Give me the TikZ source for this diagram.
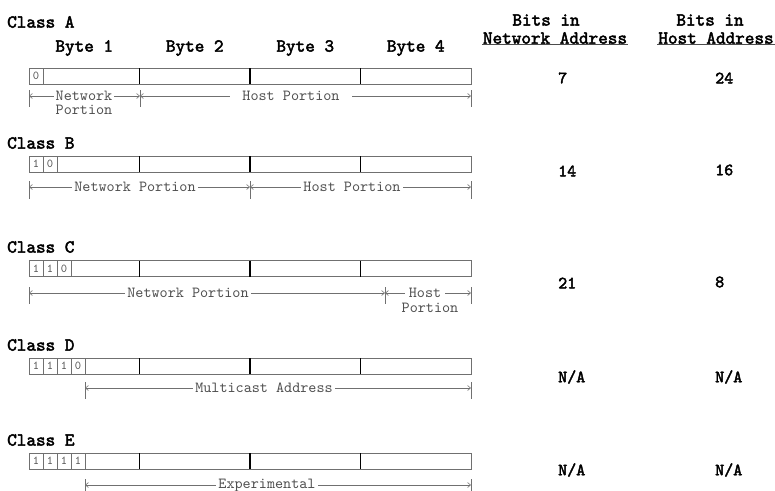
\documentclass[tikz,border=0pt]{standalone}
\usepackage{fontspec}
\setmonofont{lmmono10-regular.otf}[BoldFont=lmmono10-regular.otf, BoldFeatures={FakeBold=2.5}]
\usepackage{tikz}
\usetikzlibrary{arrows.meta,positioning}
\definecolor{boxgray}{HTML}{707070}
\definecolor{linegray}{HTML}{707070}
\definecolor{textgray}{HTML}{505050}
\tikzset{
class_label/.style={anchor=west, inner sep=0, font=\ttfamily\bfseries\fontsize{18.3}{18}\selectfont},
byte_label/.style={inner sep=0, font=\ttfamily\bfseries\fontsize{18.3}{18}\selectfont},
byte_box/.style={rectangle, draw=boxgray, line width=0.7pt, minimum width=110.5pt, minimum height=16pt, inner sep=0, outer sep=0},
bit_cell/.style={rectangle, draw=boxgray, line width=0.5pt, minimum width=14pt, minimum height=16pt, inner sep=0, outer sep=0, text=textgray, font=\ttfamily\fontsize{12}{12}\selectfont},
byte_divider/.style={line width=1.6pt, color=black},
dim_arrow/.style={draw=linegray, line width=0.6pt, {Straight Barb[length=3pt,width=5pt]}-{Straight Barb[length=3pt,width=5pt]}},
dim_tick/.style={draw=linegray, line width=0.6pt},
span_label/.style={fill=white, text=textgray, inner xsep=2pt, inner ysep=0.5pt, font=\ttfamily\fontsize{15.4}{16}\selectfont},
head_label/.style={inner sep=1pt, font=\ttfamily\bfseries\fontsize{18.3}{18}\selectfont},
head_rule/.style={line width=1pt, color=black!70},
bit_count/.style={anchor=west, inner sep=0, font=\ttfamily\bfseries\fontsize{17.2}{18}\selectfont}
}

\begin{document}
\begin{tikzpicture}[x=1pt, y=-1pt]
    \useasboundingbox (0,0) rectangle (775,490);

    % column heads
    \node[head_label] (net_head1) at (546,20) {Bits in};
    \node[head_label] (net_head2) at (555,38) {Network Address};
    \draw[head_rule] (net_head2.south west) -- (net_head2.south east);
    \node[head_label] (host_head1) at (710,20) {Bits in};
    \node[head_label] (host_head2) at (716,38) {Host Address};
    \draw[head_rule] (host_head2.south west) -- (host_head2.south east);

    % Class A
    \node[class_label] (A_name) at (7,22) {Class A};
    \node[byte_box] (A_1) at (84.25,76) {};
    \node[byte_box] (A_2) [right=0 of A_1] {};
    \node[byte_box] (A_3) [right=0 of A_2] {};
    \node[byte_box] (A_4) [right=0 of A_3] {};
    \node[byte_label] (byte_1) [above=12pt of A_1] {Byte 1};
    \node[byte_label] (byte_2) [above=12pt of A_2] {Byte 2};
    \node[byte_label] (byte_3) [above=12pt of A_3] {Byte 3};
    \node[byte_label] (byte_4) [above=12pt of A_4] {Byte 4};
    \node[bit_cell, anchor=west] (A_b1) at (A_1.west) {0};
    \draw[byte_divider] (A_1.north east) -- (A_1.south east) (A_2.north east) -- (A_2.south east) (A_3.north east) -- (A_3.south east);
    \coordinate (A_l) at (29,96);
    \coordinate (A_m) at (140,96);
    \coordinate (A_r) at (471,96);
    \draw[dim_arrow] (A_l) -- (A_m);
    \draw[dim_arrow] (A_m) -- (A_r);
    \draw[dim_tick] (A_l) +(0,-6) -- +(0,11) (A_m) +(0,-6) -- +(0,11) (A_r) +(0,-6) -- +(0,11);
    \node[span_label] (A_net) at (84,96) {Network};
    \node[span_label] (A_net2) at (84,110) {Portion};
    \node[span_label, inner xsep=12pt] (A_host) at (291,96) {Host Portion};
    \node[bit_count] (A_netbits) at (558,78) {7};
    \node[bit_count] (A_hostbits) at (715,78) {24};

    % Class B
    \node[class_label] (B_name) at (7,143) {Class B};
    \node[byte_box] (B_1) at (84.25,164) {};
    \node[byte_box] (B_2) [right=0 of B_1] {};
    \node[byte_box] (B_3) [right=0 of B_2] {};
    \node[byte_box] (B_4) [right=0 of B_3] {};
    \node[bit_cell, anchor=west] (B_b1) at (B_1.west) {1};
    \node[bit_cell] (B_b2) [right=0 of B_b1] {0};
    \draw[byte_divider] (B_1.north east) -- (B_1.south east) (B_2.north east) -- (B_2.south east) (B_3.north east) -- (B_3.south east);
    \coordinate (B_l) at (29,187);
    \coordinate (B_m) at (250,187);
    \coordinate (B_r) at (471,187);
    \draw[dim_arrow] (B_l) -- (B_m);
    \draw[dim_arrow] (B_m) -- (B_r);
    \draw[dim_tick] (B_l) +(0,-6) -- +(0,12) (B_m) +(0,-6) -- +(0,12) (B_r) +(0,-6) -- +(0,12);
    \node[span_label] (B_net) at (135,187) {Network Portion};
    \node[span_label] (B_host) at (352,187) {Host Portion};
    \node[bit_count] (B_netbits) at (558,171) {14};
    \node[bit_count] (B_hostbits) at (715,170) {16};

    % Class C
    \node[class_label] (C_name) at (7,247) {Class C};
    \node[byte_box] (C_1) at (84.25,268.5) {};
    \node[byte_box] (C_2) [right=0 of C_1] {};
    \node[byte_box] (C_3) [right=0 of C_2] {};
    \node[byte_box] (C_4) [right=0 of C_3] {};
    \node[bit_cell, anchor=west] (C_b1) at (C_1.west) {1};
    \node[bit_cell] (C_b2) [right=0 of C_b1] {1};
    \node[bit_cell] (C_b3) [right=0 of C_b2] {0};
    \draw[byte_divider] (C_1.north east) -- (C_1.south east) (C_2.north east) -- (C_2.south east) (C_3.north east) -- (C_3.south east);
    \coordinate (C_l) at (29,293);
    \coordinate (C_m) at (385,293);
    \coordinate (C_r) at (471,293);
    \draw[dim_arrow] (C_l) -- (C_m);
    \draw[dim_arrow] (C_m) -- (C_r);
    \draw[dim_tick] (C_l) +(0,-6) -- +(0,11) (C_m) +(0,-6) -- +(0,11) (C_r) +(0,-6) -- +(0,11);
    \node[span_label] (C_net) at (188,293) {Network Portion};
    \node[span_label, inner xsep=4pt] (C_host) at (425,293) {Host};
    \node[span_label] (C_host2) at (430,308) {Portion};
    \node[bit_count] (C_netbits) at (558,283) {21};
    \node[bit_count] (C_hostbits) at (715,282) {8};

    % Class D
    \node[class_label] (D_name) at (7,345) {Class D};
    \node[byte_box] (D_1) at (84.25,366) {};
    \node[byte_box] (D_2) [right=0 of D_1] {};
    \node[byte_box] (D_3) [right=0 of D_2] {};
    \node[byte_box] (D_4) [right=0 of D_3] {};
    \node[bit_cell, anchor=west] (D_b1) at (D_1.west) {1};
    \node[bit_cell] (D_b2) [right=0 of D_b1] {1};
    \node[bit_cell] (D_b3) [right=0 of D_b2] {1};
    \node[bit_cell] (D_b4) [right=0 of D_b3] {0};
    \draw[byte_divider] (D_1.north east) -- (D_1.south east) (D_2.north east) -- (D_2.south east) (D_3.north east) -- (D_3.south east);
    \coordinate (D_l) at (85,388);
    \coordinate (D_r) at (471,388);
    \draw[dim_arrow] (D_l) -- (D_r);
    \draw[dim_tick] (D_l) +(0,-6) -- +(0,11) (D_r) +(0,-6) -- +(0,11);
    \node[span_label] (D_span) at (264,388) {Multicast Address};
    \node[bit_count] (D_netbits) at (558,377) {N/A};
    \node[bit_count] (D_hostbits) at (715,377) {N/A};

    % Class E
    \node[class_label] (E_name) at (7,440) {Class E};
    \node[byte_box] (E_1) at (84.25,461) {};
    \node[byte_box] (E_2) [right=0 of E_1] {};
    \node[byte_box] (E_3) [right=0 of E_2] {};
    \node[byte_box] (E_4) [right=0 of E_3] {};
    \node[bit_cell, anchor=west] (E_b1) at (E_1.west) {1};
    \node[bit_cell] (E_b2) [right=0 of E_b1] {1};
    \node[bit_cell] (E_b3) [right=0 of E_b2] {1};
    \node[bit_cell] (E_b4) [right=0 of E_b3] {1};
    \draw[byte_divider] (E_1.north east) -- (E_1.south east) (E_2.north east) -- (E_2.south east) (E_3.north east) -- (E_3.south east);
    \coordinate (E_l) at (85,485);
    \coordinate (E_r) at (471,485);
    \draw[dim_arrow] (E_l) -- (E_r);
    \draw[dim_tick] (E_l) +(0,-6) -- +(0,11) (E_r) +(0,-6) -- +(0,11);
    \node[span_label] (E_span) at (267,485) {Experimental};
    \node[bit_count] (E_netbits) at (558,470) {N/A};
    \node[bit_count] (E_hostbits) at (715,470) {N/A};
\end{tikzpicture}
\end{document}
